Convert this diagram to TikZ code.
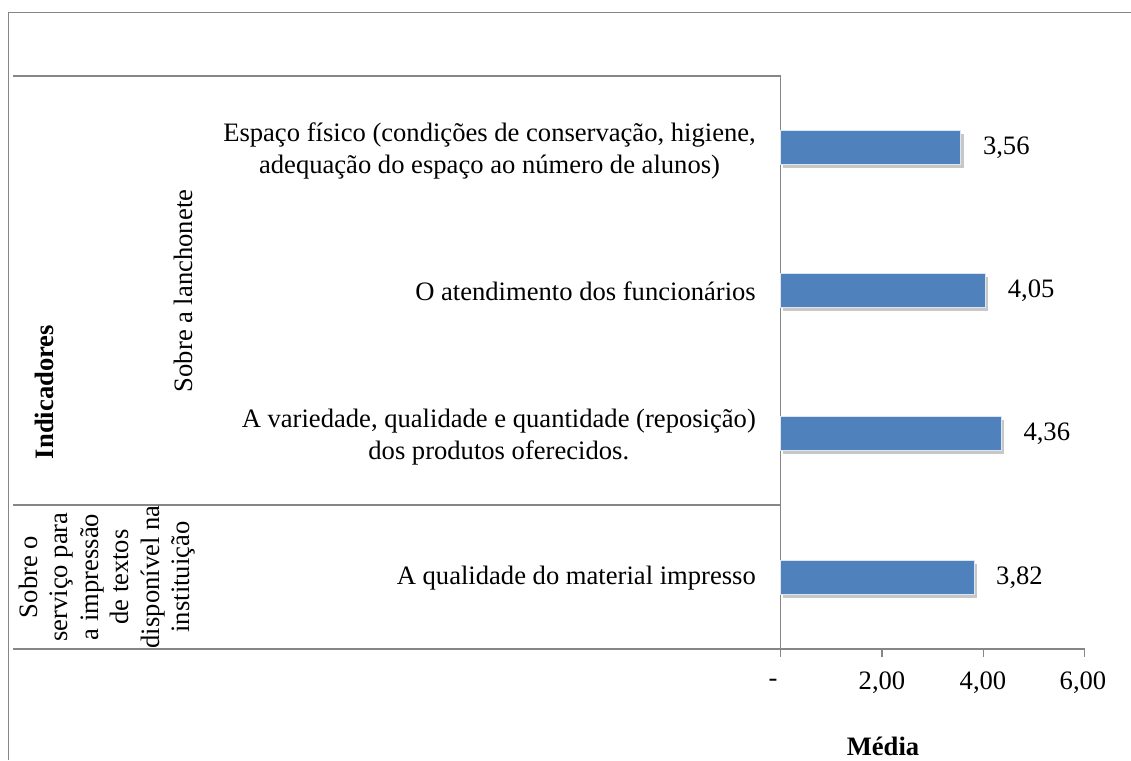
\documentclass[tikz,border=0pt]{standalone}
\usepackage{fontspec}
\setmainfont{Liberation Serif}
\definecolor{axisgray}{RGB}{134,134,134}
\definecolor{barblue}{RGB}{79,129,189}
\begin{document}
\begin{tikzpicture}[x=1pt,y=-1pt,
  lbl/.style={font=\fontsize{26.6}{30.4}\selectfont, inner sep=0pt},
  cat/.style={lbl, anchor=east, align=center, font=\fontsize{26.6}{31.5}\selectfont},
  val/.style={lbl, anchor=west},
  tick/.style={lbl, anchor=center},
  gline/.style={draw=axisgray, line width=1.2pt},
  barbox/.style={fill=barblue, draw=white!80!barblue, line width=0.8pt},
  barshadow/.style={fill=black, opacity=0.22},
]
\useasboundingbox (0,0) rectangle (1131,760);
% frame
\draw[gline] (8.5,760) -- (8.5,12.5) -- (1131,12.5);
% category grid lines
\draw[gline] (13,76) -- (780.7,76);
\draw[gline] (13,505) -- (780.7,505);
% axes
\draw[gline] (780.7,76) -- (780.7,649);
\draw[gline] (13,649) -- (1084.5,649);
\foreach \tx in {780.7,881.9,983.1,1084.3} \draw[gline] (\tx,649) -- (\tx,657);
% tick labels
\node[tick] (t0) at (773,683) {-};
\node[tick] (t2) at (882,683) {2,00};
\node[tick] (t4) at (983,683) {4,00};
\node[tick] (t6) at (1083,683) {6,00};
\node[lbl, font=\fontsize{26.6}{30.4}\selectfont\bfseries] (xt) at (883,746) {Média};
% bars
\fill[barshadow] (783,134) rectangle (963.5,167.5);
\draw[barbox] (780.7,130.5) rectangle (960.8,164.5);
\node[val] (v1) at (982.8,148) {3,56};
\fill[barshadow] (783,277) rectangle (988.3,310.5);
\draw[barbox] (780.7,273.5) rectangle (985.6,307.5);
\node[val] (v2) at (1007.6,291) {4,05};
\fill[barshadow] (783,420) rectangle (1004,453.5);
\draw[barbox] (780.7,416.5) rectangle (1001.3,450.5);
\node[val] (v3) at (1023.3,434) {4,36};
\fill[barshadow] (783,564) rectangle (976.7,597.5);
\draw[barbox] (780.7,560.5) rectangle (974.0,594.5);
\node[val] (v4) at (996,578) {3,82};
% category labels
\node[cat] (c1) at (756,151) {Espaço físico (condições de conservação, higiene,\\adequação do espaço ao número de alunos)};
\node[cat] (c2) at (756,291.5) {O atendimento dos funcionários};
\node[cat] (c3) at (756,437) {A variedade, qualidade e quantidade (reposição)\\dos produtos oferecidos.};
\node[cat] (c4) at (756,578) {A qualidade do material impresso};
% group labels
\node[lbl, rotate=90] (g1) at (183,291) {Sobre a lanchonete};
\node[lbl, rotate=90, align=center] (g2) at (107,577) {Sobre o\\serviço para\\a impressão\\de textos\\disponível na\\instituição};
\node[lbl, rotate=90, font=\fontsize{26.6}{30.4}\selectfont\bfseries] (ind) at (44,392) {Indicadores};
\end{tikzpicture}
\end{document}
